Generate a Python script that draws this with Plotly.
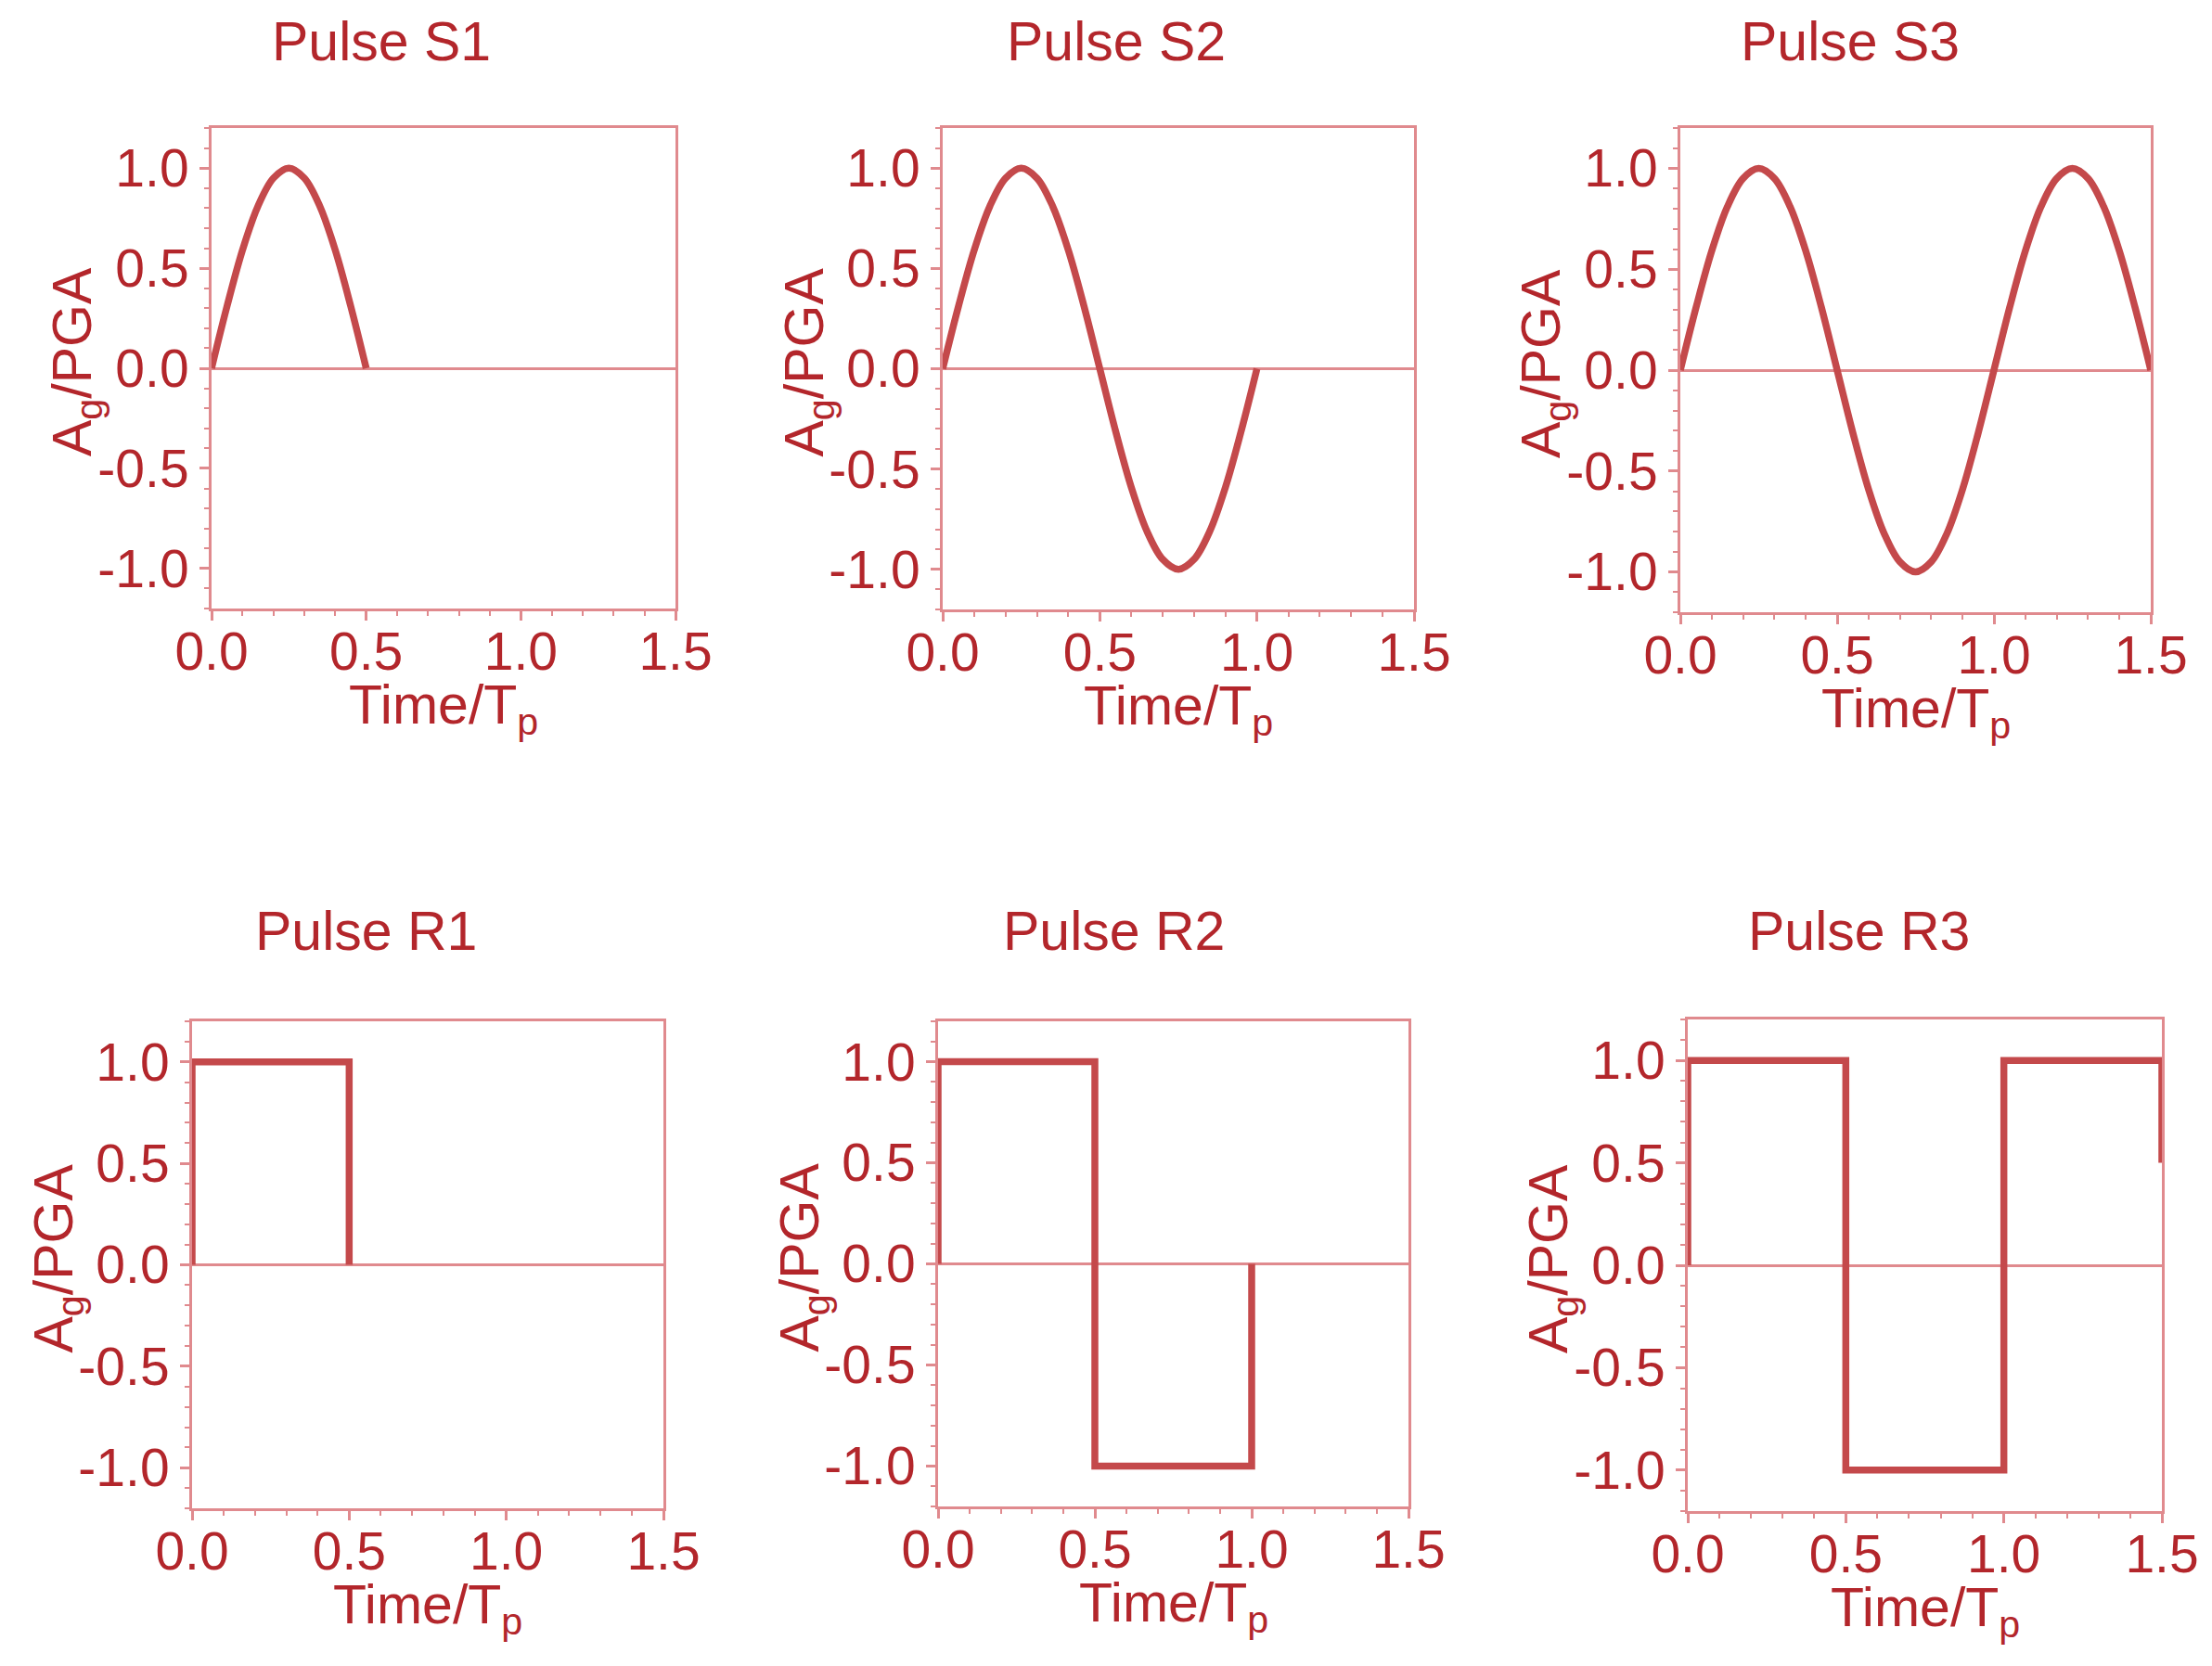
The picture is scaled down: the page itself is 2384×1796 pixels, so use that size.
import plotly.graph_objects as go

# ---------------- data ----------------
titles = ["Pulse S1", "Pulse S2", "Pulse S3", "Pulse R1", "Pulse R2", "Pulse R3"]
x_title = "Time/T<sub>p</sub>"
y_title = "A<sub>g</sub>/PGA"

time_s1 = [0.0, 0.05, 0.1, 0.15, 0.2, 0.25, 0.3, 0.35, 0.4, 0.45, 0.5]
acc_s1 = [0.0, 0.31, 0.59, 0.81, 0.95, 1.0, 0.95, 0.81, 0.59, 0.31, 0.0]

time_s2 = [0.0, 0.05, 0.1, 0.15, 0.2, 0.25, 0.3, 0.35, 0.4, 0.45, 0.5,
           0.55, 0.6, 0.65, 0.7, 0.75, 0.8, 0.85, 0.9, 0.95, 1.0]
acc_s2 = [0.0, 0.31, 0.59, 0.81, 0.95, 1.0, 0.95, 0.81, 0.59, 0.31, 0.0,
          -0.31, -0.59, -0.81, -0.95, -1.0, -0.95, -0.81, -0.59, -0.31, 0.0]

time_s3 = [0.0, 0.05, 0.1, 0.15, 0.2, 0.25, 0.3, 0.35, 0.4, 0.45, 0.5,
           0.55, 0.6, 0.65, 0.7, 0.75, 0.8, 0.85, 0.9, 0.95, 1.0,
           1.05, 1.1, 1.15, 1.2, 1.25, 1.3, 1.35, 1.4, 1.45, 1.5]
acc_s3 = [0.0, 0.31, 0.59, 0.81, 0.95, 1.0, 0.95, 0.81, 0.59, 0.31, 0.0,
          -0.31, -0.59, -0.81, -0.95, -1.0, -0.95, -0.81, -0.59, -0.31, 0.0,
          0.31, 0.59, 0.81, 0.95, 1.0, 0.95, 0.81, 0.59, 0.31, 0.0]

time_r1 = [0.0, 0.0, 0.5, 0.5]
acc_r1 = [0.0, 1.0, 1.0, 0.0]

time_r2 = [0.0, 0.0, 0.5, 0.5, 1.0, 1.0]
acc_r2 = [0.0, 1.0, 1.0, -1.0, -1.0, 0.0]

time_r3 = [0.0, 0.0, 0.5, 0.5, 1.0, 1.0, 1.5, 1.5]
acc_r3 = [0.0, 1.0, 1.0, -1.0, -1.0, 1.0, 1.0, 0.5]

x_ticks = [0.0, 0.5, 1.0, 1.5]
x_ticklabels = ["0.0", "0.5", "1.0", "1.5"]
y_ticks = [-1.0, -0.5, 0.0, 0.5, 1.0]
y_ticklabels = ["-1.0", "-0.5", "0.0", "0.5", "1.0"]

# ---------------- styling ----------------
W, H = 2384, 1796
TEXT = "#b3262b"
CURVE = "#c4494b"
FRAME = "#e08a8e"
FONT = "Arial, Liberation Sans, sans-serif"
FS_TICK = 57
FS_TITLE = 59

# panel boxes in pixels: (left, right, top, bottom)
boxes = [
    (220, 720, 130, 648),
    (1008, 1516, 130, 649),
    (1803, 2310, 130, 652),
    (199, 707, 1093, 1618),
    (1003, 1510, 1093, 1616),
    (1811, 2322, 1091, 1621),
]
title_pos = [(403, 37), (1195, 37), (1986, 37), (386, 996), (1192, 996), (1995, 996)]

series = [
    (time_s1, acc_s1, "spline"),
    (time_s2, acc_s2, "spline"),
    (time_s3, acc_s3, "spline"),
    (time_r1, acc_r1, "linear"),
    (time_r2, acc_r2, "linear"),
    (time_r3, acc_r3, "linear"),
]

fig = go.Figure()
layout = dict(
    width=W, height=H,
    margin=dict(l=0, r=0, t=0, b=0, pad=0),
    autosize=False,
    paper_bgcolor="white", plot_bgcolor="white",
    showlegend=False,
    font=dict(family=FONT, size=FS_TICK, color=TEXT),
    annotations=[],
)

for i, ((tx, ay, shape), (l, r, t, b)) in enumerate(zip(series, boxes)):
    n = i + 1
    xa = "x" if n == 1 else f"x{n}"
    ya = "y" if n == 1 else f"y{n}"
    fig.add_trace(go.Scatter(
        x=tx, y=ay, mode="lines", xaxis=xa, yaxis=ya,
        line=dict(color=CURVE, width=7.5, shape=shape, smoothing=1.0),
        hoverinfo="skip", cliponaxis=False,
    ))
    xkey = "xaxis" if n == 1 else f"xaxis{n}"
    ykey = "yaxis" if n == 1 else f"yaxis{n}"
    layout[xkey] = dict(
        domain=[l / W, r / W], anchor=ya, range=[0, 1.5], automargin=False,
        tickvals=x_ticks, ticktext=x_ticklabels,
        ticks="outside", ticklen=10, tickwidth=2.5, tickcolor=FRAME,
        ticklabelstandoff=-15,
        minor=dict(dtick=0.1, tick0=0, ticks="outside", ticklen=5, tickwidth=2, tickcolor=FRAME),
        showline=True, linecolor=FRAME, linewidth=3, mirror=True,
        showgrid=False, zeroline=False,
        tickfont=dict(family=FONT, size=FS_TICK, color=TEXT),
    )
    layout[ykey] = dict(
        domain=[1 - b / H, 1 - t / H], anchor=xa, range=[-1.2, 1.2], automargin=False,
        tickvals=y_ticks, ticktext=y_ticklabels,
        ticks="outside", ticklen=10, tickwidth=2.5, tickcolor=FRAME,
        minor=dict(dtick=0.1, tick0=0, ticks="outside", ticklen=5, tickwidth=2, tickcolor=FRAME),
        showline=True, linecolor=FRAME, linewidth=3, mirror=True,
        showgrid=False, zeroline=True, zerolinecolor=FRAME, zerolinewidth=2.5,
        tickfont=dict(family=FONT, size=FS_TICK, color=TEXT),
    )
    # panel title
    tx_, ty_ = title_pos[i]
    layout["annotations"].append(dict(
        text=titles[i], x=tx_ / W, y=1 - ty_ / H, xref="paper", yref="paper",
        xanchor="center", yanchor="middle", showarrow=False,
        font=dict(family=FONT, size=FS_TITLE, color=TEXT),
    ))
    # y-axis title (close to the tick labels, as in the reference)
    layout["annotations"].append(dict(
        text=y_title, textangle=-90,
        x=(l - 146) / W, y=1 - ((t + b) / 2 - 7) / H, xref="paper", yref="paper",
        xanchor="center", yanchor="middle", showarrow=False,
        font=dict(family=FONT, size=FS_TITLE, color=TEXT),
    ))
    # x-axis title
    layout["annotations"].append(dict(
        text=x_title,
        x=(l + r) / 2 / W, y=1 - (b + 108) / H, xref="paper", yref="paper",
        xanchor="center", yanchor="middle", showarrow=False,
        font=dict(family=FONT, size=FS_TITLE, color=TEXT),
    ))

fig.update_layout(**layout)
fig.write_html("out.html")
